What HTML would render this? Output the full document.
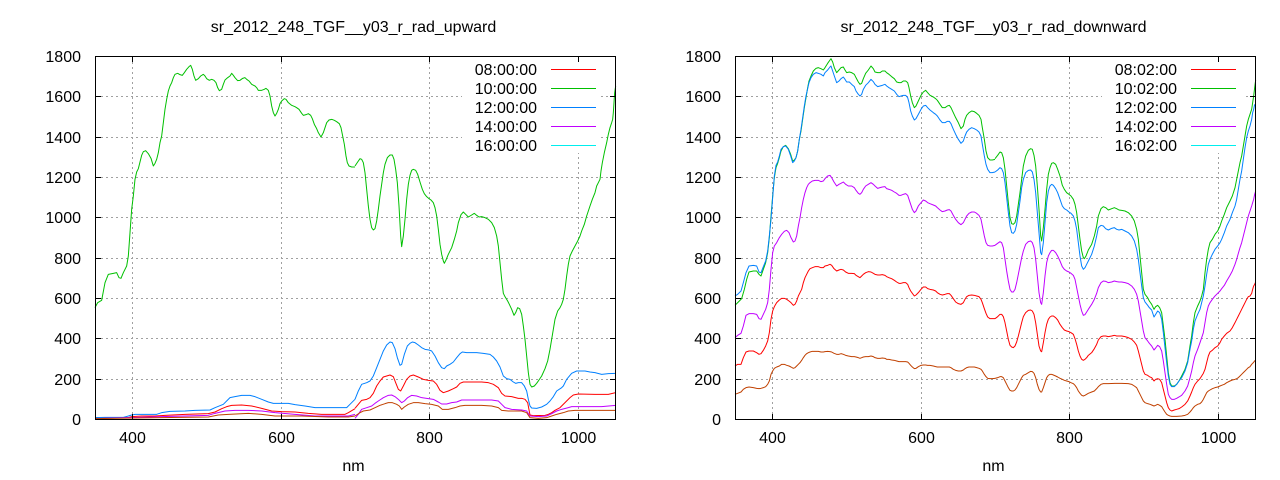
<!DOCTYPE html>
<html><head><meta charset="utf-8"><style>
html,body{margin:0;padding:0;background:#fff;}
svg{display:block;}
text{font-family:"Liberation Sans",Arial,sans-serif;font-size:16px;fill:#000;}
</style></head><body>
<svg width="1280" height="480" viewBox="0 0 1280 480" xmlns="http://www.w3.org/2000/svg">
<rect width="1280" height="480" fill="#fff"/>

<!-- ================= LEFT PLOT ================= -->
<g shape-rendering="crispEdges" stroke="#a0a0a0" stroke-width="1" stroke-dasharray="2,3" fill="none">
 <path d="M96,96.5H615 M96,137.5H615 M96,177.5H615 M96,217.5H615 M96,258.5H615 M96,298.5H615 M96,338.5H615 M96,379.5H615"/>
 <path d="M132.5,57V419 M281.5,57V419 M429.5,57V419 M578.5,57V419"/>
</g>
<rect x="462" y="57" width="139" height="96" fill="#fff"/>
<g fill="none" stroke-width="3" stroke-linejoin="round">
 <g transform="translate(95,56) scale(0.33333)">
  <polyline stroke="#ff0000" points="0,1085 100,1085 110,1082 140,1080 180,1080 210,1078 270,1075 340,1073 360,1068 380,1058 395,1052 410,1048 440,1047 470,1050 500,1057 530,1065 560,1067 600,1068 640,1072 680,1075 750,1075 760,1070 780,1058"/>
  <polyline stroke="#00c000" points="0,755 8,740 20,733 30,680 40,655 55,652 65,650 72,665 78,667 85,650 95,630 100,600 105,530 110,460 115,420 120,370 125,348 130,338 135,318 140,298 145,287 152,284 160,293 168,307 175,330 180,322 185,310 190,290 195,260 200,240 205,200 210,160 215,130 220,105 225,90 230,80 235,65 240,55 248,52 255,56 262,58 268,50 275,40 282,32 287,28 292,40 297,60 302,73 310,68 317,60 325,55 330,60 335,68 343,73 350,70 357,73 363,80 368,95 373,104 380,100 385,85 390,72 398,65 405,60 410,52 415,58 420,65 428,74 435,73 443,67 450,65 455,70 462,75 470,85 480,90 485,95 490,103 500,103 508,100 513,97 520,103 525,120 530,150 535,170 540,180 545,172 550,160 555,143 560,135 568,128 573,130 580,140 590,148 600,152 605,155 612,160 620,172 625,178 633,176 640,173 647,178 652,188 658,205 665,218 670,230 678,243 685,230 690,215 695,200 702,192 710,190 718,193 725,197 733,203 738,215 742,235 748,265 753,300 757,320 762,330 770,333 780,333"/>
  <polyline stroke="#0080ff" points="0,1085 30,1084 85,1084 100,1080 110,1077 120,1075 150,1075 185,1075 200,1070 225,1066 270,1065 300,1063 345,1062 360,1055 385,1045 405,1025 420,1022 440,1018 465,1018 480,1022 500,1030 520,1038 535,1042 580,1042 600,1046 630,1050 660,1055 700,1055 755,1055 765,1045 780,1030"/>
  <polyline stroke="#c000ff" points="0,1088 100,1085 200,1082 340,1078 360,1072 390,1065 420,1063 460,1063 500,1065 540,1070 600,1075 660,1080 760,1080 780,1075"/>
  <polyline stroke="#c04000" points="0,1088 200,1085 340,1083 370,1077 400,1075 460,1072 500,1075 540,1080 620,1080 700,1083 760,1083 780,1080"/>
 </g>
 <g transform="translate(355,56) scale(0.33333)">
  <polyline stroke="#ff0000" points="0,1057 10,1045 20,1033 35,1030 45,1025 55,1012 65,990 75,975 85,963 95,960 105,957 115,962 122,980 130,1000 137,1005 145,990 155,970 165,960 175,957 190,963 205,970 220,973 235,975 245,985 255,1003 265,1010 280,1005 295,998 305,993 315,982 325,978 350,978 380,978 400,980 415,985 430,995 440,1012 450,1020 470,1022 490,1027 500,1027 510,1030 518,1040 525,1077 535,1079 570,1078 580,1075 590,1070 600,1063 615,1055 630,1040 645,1025 655,1017 670,1014 720,1015 740,1015 760,1015 782,1010"/>
  <polyline stroke="#00c000" points="0,330 8,318 15,308 20,310 25,320 30,350 35,400 40,450 45,490 50,515 55,522 60,518 65,495 70,460 75,420 80,385 85,350 90,325 97,305 105,297 112,297 117,310 122,340 127,380 132,450 137,540 140,572 145,540 150,490 155,430 160,385 165,358 170,343 175,340 182,343 188,355 195,378 202,400 208,413 215,422 222,428 228,432 235,440 240,455 245,480 250,520 255,565 260,595 265,615 268,622 273,612 280,595 290,575 298,550 305,525 310,500 318,476 325,468 332,475 340,483 350,477 358,472 365,478 372,483 380,482 390,485 400,490 410,500 418,515 425,540 430,570 435,620 440,670 445,712 450,722 458,735 463,745 470,760 477,778 482,770 488,755 494,758 500,775 505,810 510,850 515,900 520,950 525,985 530,993 538,990 545,982 552,972 560,960 570,938 578,915 585,880 590,850 595,820 600,790 608,765 615,755 620,745 625,730 630,700 635,660 640,625 645,600 652,585 660,570 668,555 675,540 680,525 688,505 695,480 705,450 712,430 720,410 725,390 730,380 735,370 738,345 742,320 748,290 755,260 760,235 765,215 770,200 773,190 775,170 777,140 779,110 782,90"/>
  <polyline stroke="#0080ff" points="0,1030 10,1005 20,985 35,980 45,975 55,960 65,935 75,910 85,885 95,867 105,858 112,860 120,878 127,905 135,928 140,925 148,895 157,870 165,862 172,858 180,860 190,867 200,875 210,880 222,882 230,885 240,900 250,920 260,935 268,938 275,930 285,925 295,918 305,905 315,893 322,888 335,890 350,890 365,890 385,892 405,895 415,903 425,915 435,933 445,960 455,968 465,970 475,978 482,982 490,980 500,980 508,990 515,1005 520,1030 525,1050 530,1056 545,1057 560,1053 575,1045 585,1035 595,1022 605,1005 620,995 625,990 635,970 650,952 665,945 690,945 705,948 720,950 740,955 760,953 782,952"/>
  <polyline stroke="#c000ff" points="0,1087 10,1075 20,1060 35,1055 50,1050 60,1042 70,1035 85,1025 100,1018 110,1017 120,1022 130,1030 140,1040 148,1035 158,1025 170,1018 185,1020 200,1025 215,1027 235,1030 250,1038 260,1044 275,1044 290,1040 305,1038 320,1032 340,1032 380,1032 410,1032 430,1035 440,1045 450,1055 470,1060 500,1062 515,1065 525,1080 550,1082 575,1080 590,1073 605,1065 620,1060 640,1055 650,1052 700,1052 740,1052 782,1048"/>
  <polyline stroke="#c04000" points="0,1080 15,1070 25,1065 45,1062 60,1055 75,1048 90,1043 100,1040 112,1040 125,1045 133,1050 140,1060 148,1053 160,1045 175,1040 190,1040 210,1043 230,1045 250,1050 262,1060 280,1060 300,1055 315,1050 330,1048 380,1048 410,1050 430,1055 440,1063 460,1065 500,1065 515,1070 525,1085 550,1087 575,1085 590,1080 605,1075 625,1070 640,1065 660,1063 700,1063 782,1063"/>
 </g>
</g>
<g shape-rendering="crispEdges" stroke="#000" stroke-width="1" fill="none">
 <rect x="95.5" y="56.5" width="520" height="363"/>
 <path d="M96,96.5h5 M96,137.5h5 M96,177.5h5 M96,217.5h5 M96,258.5h5 M96,298.5h5 M96,338.5h5 M96,379.5h5
          M615,96.5h-5 M615,137.5h-5 M615,177.5h-5 M615,217.5h-5 M615,258.5h-5 M615,298.5h-5 M615,338.5h-5 M615,379.5h-5
          M132.5,419v-5 M281.5,419v-5 M429.5,419v-5 M578.5,419v-5
          M132.5,57v5 M281.5,57v5 M429.5,57v5 M578.5,57v5"/>
</g>
<g shape-rendering="crispEdges" stroke-width="1">
 <path d="M551,69.5H596" stroke="#ff0000"/>
 <path d="M551,88.5H596" stroke="#00c000"/>
 <path d="M551,107.5H596" stroke="#0080ff"/>
 <path d="M551,126.5H596" stroke="#c000ff"/>
 <path d="M551,145.5H596" stroke="#00eeee"/>
</g>
<g text-anchor="end">
 <text x="537" y="75">08:00:00</text>
 <text x="537" y="94">10:00:00</text>
 <text x="537" y="113">12:00:00</text>
 <text x="537" y="132">14:00:00</text>
 <text x="537" y="151">16:00:00</text>
 <text x="81" y="62">1800</text>
 <text x="81" y="102">1600</text>
 <text x="81" y="143">1400</text>
 <text x="81" y="183">1200</text>
 <text x="81" y="223">1000</text>
 <text x="81" y="264">800</text>
 <text x="81" y="304">600</text>
 <text x="81" y="344">400</text>
 <text x="81" y="385">200</text>
 <text x="81" y="425">0</text>
</g>
<g text-anchor="middle">
 <text x="132.5" y="443">400</text>
 <text x="281.5" y="443">600</text>
 <text x="429.5" y="443">800</text>
 <text x="578.5" y="443">1000</text>
 <text x="353.5" y="471">nm</text>
 <text x="353.5" y="32">sr_2012_248_TGF__y03_r_rad_upward</text>
</g>

<!-- ================= RIGHT PLOT ================= -->
<g shape-rendering="crispEdges" stroke="#a0a0a0" stroke-width="1" stroke-dasharray="2,3" fill="none">
 <path d="M736,96.5H1255 M736,137.5H1255 M736,177.5H1255 M736,217.5H1255 M736,258.5H1255 M736,298.5H1255 M736,338.5H1255 M736,379.5H1255"/>
 <path d="M772.5,57V419 M921.5,57V419 M1069.5,57V419 M1218.5,57V419"/>
</g>
<rect x="1102" y="57" width="143" height="96" fill="#fff"/>
<g fill="none" stroke-width="3" stroke-linejoin="round">
 <g transform="translate(735,56) scale(0.33333)">
  <polyline stroke="#ff0000" points="0,930 8,925 18,925 25,905 33,888 42,885 55,885 65,890 72,895 78,893 85,883 92,870 98,855 103,830 108,790 113,765 118,752 125,740 133,732 140,727 148,727 155,730 162,735 168,740 175,748 180,745 185,735 190,720 195,710 200,700 205,680 210,665 215,655 220,645 225,638 232,635 240,632 250,632 258,635 265,635 270,630 278,628 285,625 290,628 297,638 305,645 312,642 318,640 325,642 332,648 340,652 350,652 358,653 363,658 370,662 375,665 380,660 385,655 392,650 400,647 408,648 415,652 420,655 428,657 435,657 442,656 450,658 455,662 462,665 470,668 478,673 485,678 492,682 498,682 505,680 512,680 518,685 522,695 527,705 532,712 538,720 543,717 550,710 558,700 565,693 572,693 578,698 585,700 595,702 602,705 607,710 615,715 622,717 630,715 637,713 643,713 648,718 655,728 662,738 670,743 678,745 685,740 690,730 695,722 702,718 710,717 718,718 725,720 732,722 738,730 742,740 748,758 753,772 758,783 765,788 772,788 780,788"/>
  <polyline stroke="#00c000" points="0,748 10,738 20,728 28,700 35,670 42,648 55,645 65,645 72,655 78,660 85,640 92,620 98,590 103,545 108,480 113,420 118,365 123,335 128,322 133,305 138,285 145,272 152,268 160,278 167,295 173,315 178,312 183,305 188,285 193,250 198,225 203,190 208,155 213,125 218,95 222,75 228,60 235,45 243,37 250,35 258,38 265,42 270,35 278,22 285,12 288,8 293,18 298,35 305,50 312,42 318,35 325,33 330,42 335,50 343,48 350,50 358,55 363,65 370,78 375,85 380,82 385,68 392,52 400,42 408,30 415,38 420,48 428,50 435,50 442,45 450,45 455,50 462,55 470,62 478,68 485,78 492,80 498,80 505,75 512,75 518,80 522,95 527,120 532,140 538,155 543,150 550,135 558,118 565,108 572,103 578,110 585,118 595,123 602,128 607,133 615,145 622,155 630,155 637,150 643,148 648,155 655,170 662,185 670,200 678,218 685,210 690,190 695,178 702,170 710,165 718,167 725,172 732,178 738,190 742,215 748,250 753,285 758,305 765,312 772,312 780,310"/>
  <polyline stroke="#0080ff" points="0,720 8,715 18,705 25,680 33,650 42,630 55,628 65,630 72,648 78,650 85,632 92,615 98,585 103,540 108,490 113,425 118,360 123,328 128,318 133,300 138,280 145,272 152,270 160,280 167,300 173,320 178,315 183,305 188,285 193,250 198,220 203,185 208,150 213,120 218,98 222,80 228,65 235,55 243,50 250,52 258,55 265,60 270,50 278,42 285,33 288,30 293,45 298,60 305,80 312,75 318,68 325,63 330,70 335,78 343,78 350,85 358,92 363,105 370,115 375,120 380,115 385,100 392,88 400,80 408,70 415,77 420,85 428,92 435,90 442,88 450,85 455,90 462,95 470,100 478,105 485,115 492,122 498,120 505,118 512,118 518,125 522,140 527,165 532,180 538,192 543,188 550,175 558,160 565,150 572,148 578,155 585,162 595,170 602,175 607,180 615,192 622,200 630,200 637,196 643,196 648,203 655,220 662,235 670,250 678,262 685,255 690,240 695,228 702,220 710,215 718,218 725,222 732,228 738,240 742,265 748,300 753,325 758,340 765,350 772,350 780,348"/>
  <polyline stroke="#c000ff" points="0,845 8,838 18,832 25,810 33,778 42,773 55,773 65,775 72,788 78,790 85,775 92,760 98,740 103,700 108,640 113,590 118,570 125,560 133,545 140,535 148,526 155,523 162,530 168,545 175,558 180,555 185,540 190,510 195,485 200,455 205,430 210,410 215,395 220,385 225,380 232,375 240,373 250,373 258,377 265,375 270,368 278,360 285,358 290,365 297,378 305,390 312,385 318,382 325,378 332,385 340,390 350,390 358,395 363,403 370,412 375,415 380,410 385,400 392,390 400,385 408,380 415,385 420,390 428,397 435,395 442,393 450,392 455,398 462,400 470,403 478,408 485,412 492,418 498,418 505,415 512,413 518,418 522,430 527,445 532,460 538,470 543,465 550,450 558,440 565,432 572,435 578,440 585,443 595,447 602,450 607,455 615,462 622,467 630,465 637,462 643,461 648,465 655,478 662,490 670,500 678,506 685,500 690,490 695,480 702,472 710,468 718,468 725,472 732,478 738,490 742,510 748,540 753,560 758,568 765,570 772,570 780,568"/>
  <polyline stroke="#c04000" points="0,1015 8,1012 18,1008 25,1000 33,995 42,993 55,995 65,997 72,998 78,997 85,995 92,992 98,985 103,975 108,955 113,945 118,937 125,933 133,930 140,925 148,925 155,928 162,930 168,933 175,937 180,935 185,930 190,925 195,920 200,913 205,905 210,898 215,893 220,890 225,888 232,886 240,886 250,886 258,888 265,888 270,887 278,886 285,887 290,888 297,892 305,895 312,895 318,893 325,895 332,898 340,900 350,902 358,902 363,903 370,905 375,907 380,905 385,903 392,902 400,902 408,900 415,902 420,905 428,907 435,907 442,906 450,907 455,910 462,910 470,912 478,913 485,915 492,917 498,917 505,917 512,917 518,918 522,922 527,928 532,933 538,938 543,937 550,932 558,928 565,927 572,927 578,928 585,928 595,930 602,932 607,933 615,933 622,933 630,933 637,933 643,933 648,935 655,940 662,943 670,945 678,945 685,942 690,938 695,935 702,933 710,933 718,933 725,935 732,937 738,940 742,945 748,955 753,962 758,967 765,968 772,968 780,967"/>
 </g>
 <g transform="translate(995,56) scale(0.33333)">
  <polyline stroke="#ff0000" points="0,788 8,782 15,775 20,775 25,782 30,800 35,825 40,850 45,868 50,873 55,875 60,870 65,858 70,840 75,820 80,800 85,782 92,770 100,763 107,762 112,765 117,775 122,800 127,835 132,870 137,885 140,887 145,860 150,830 155,805 160,790 165,783 170,780 175,780 182,785 188,792 195,805 202,815 208,822 215,825 222,827 228,830 235,835 240,848 245,865 250,885 255,900 260,910 265,913 270,910 275,905 280,898 290,890 298,878 305,865 310,852 318,842 325,840 332,840 340,842 350,840 358,838 365,840 372,840 380,840 390,842 400,845 410,850 418,858 425,868 430,885 435,905 440,925 445,945 450,955 458,958 463,962 470,965 477,975 482,970 488,968 494,970 500,980 505,1000 510,1020 515,1040 520,1055 525,1062 530,1065 538,1062 545,1060 552,1058 560,1053 570,1045 578,1035 585,1020 590,1008 595,995 600,985 608,975 615,968 620,960 625,952 630,940 635,920 640,900 645,888 652,883 660,875 668,870 675,860 680,850 688,840 695,832 705,825 712,815 720,800 725,790 730,780 735,770 740,760 745,750 750,740 755,730 760,722 765,720 770,712 773,700 776,690 779,685 782,678"/>
  <polyline stroke="#00c000" points="0,308 8,298 15,288 20,290 25,305 30,340 35,390 40,440 45,485 50,503 55,505 60,500 65,480 70,445 75,410 80,370 85,330 92,300 100,283 107,278 112,280 117,298 122,330 127,390 132,460 137,540 140,555 145,515 150,460 155,400 160,355 165,335 170,322 175,320 182,325 188,340 195,360 202,388 208,400 215,410 222,415 228,420 235,430 240,445 245,470 250,510 255,550 260,585 265,605 268,608 273,600 280,582 290,565 298,540 305,510 310,480 318,458 325,452 332,455 340,462 350,458 358,455 365,458 372,462 380,463 390,465 400,470 410,480 418,495 425,520 430,550 435,600 440,650 445,700 450,715 458,725 463,735 470,745 477,760 482,752 488,748 494,755 500,770 505,810 510,850 515,900 520,950 525,980 530,990 538,990 545,985 552,975 560,960 570,940 578,915 585,870 590,840 595,800 600,770 608,750 615,735 620,720 625,700 630,650 635,610 640,580 645,560 652,550 660,535 668,525 675,510 680,495 688,475 695,455 705,435 712,420 720,395 725,370 730,345 735,320 740,300 745,270 750,240 755,210 760,190 765,175 770,160 773,140 776,120 779,95 782,72"/>
  <polyline stroke="#0080ff" points="0,348 8,342 15,335 20,338 25,350 30,380 35,425 40,470 45,510 50,530 55,532 60,525 65,505 70,470 75,435 80,395 85,370 92,350 100,343 107,342 112,348 117,370 122,410 127,470 132,530 137,590 140,596 145,560 150,500 155,440 160,405 165,390 170,385 175,388 182,398 188,410 195,430 202,450 208,458 215,462 222,468 228,472 235,480 240,495 245,520 250,560 255,600 260,630 265,640 270,635 275,625 280,615 290,595 298,570 305,540 310,515 318,508 325,510 332,518 340,522 350,517 358,515 365,520 372,522 380,520 390,525 400,530 410,540 418,555 425,580 430,610 435,650 440,690 445,725 450,738 458,748 463,755 470,762 477,783 482,775 488,765 494,770 500,790 505,830 510,875 515,920 520,960 525,985 530,992 538,992 545,985 552,975 560,965 570,945 578,920 585,880 590,855 595,820 600,795 608,775 615,760 620,740 625,720 630,690 635,655 640,625 645,610 652,595 660,580 668,570 675,560 680,550 688,530 695,510 705,490 712,470 720,450 725,430 730,400 735,370 740,345 745,310 750,275 755,245 760,225 765,210 770,190 773,170 776,160 779,145"/>
  <polyline stroke="#c000ff" points="0,568 8,562 15,557 20,560 25,575 30,610 35,645 40,675 45,700 50,708 55,708 60,700 65,680 70,655 75,630 80,605 85,585 92,565 100,557 107,555 112,560 117,575 122,610 127,660 132,710 137,740 140,745 145,710 150,660 155,620 160,600 165,590 170,583 175,583 182,590 188,600 195,615 202,632 208,640 215,645 222,648 228,652 235,658 240,670 245,695 250,720 255,745 260,765 265,778 270,776 275,768 280,760 290,745 298,730 305,712 310,695 318,680 325,675 332,676 340,680 350,678 358,675 365,677 372,678 380,678 390,680 400,683 410,690 418,700 425,715 430,735 435,765 440,795 445,825 450,845 458,855 463,862 470,870 477,882 482,876 488,868 494,872 500,885 505,915 510,950 515,985 520,1015 525,1025 530,1030 538,1030 545,1027 552,1023 560,1018 570,1005 578,990 585,965 590,945 595,920 600,900 608,880 615,860 620,845 625,830 630,800 635,770 640,750 645,740 652,730 660,720 668,712 675,705 680,698 688,688 695,675 705,658 712,645 720,625 725,610 730,592 735,575 740,560 745,540 750,520 755,500 760,480 765,465 770,450 773,440 776,430 779,415 782,405"/>
  <polyline stroke="#c04000" points="0,967 8,965 15,962 20,962 25,965 30,975 35,985 40,995 45,1003 50,1005 55,1005 60,1002 65,995 70,985 75,975 80,965 85,958 92,955 100,950 107,946 112,947 117,952 122,965 127,985 132,1000 137,1008 140,1008 145,995 150,980 155,965 160,958 165,955 170,955 175,957 182,960 188,963 195,967 202,970 208,973 215,975 222,977 228,980 235,983 240,988 245,995 250,1005 255,1012 260,1018 265,1020 270,1018 275,1015 280,1012 290,1008 298,1005 305,998 310,992 318,985 325,983 340,983 360,982 380,982 400,983 410,985 418,990 425,995 430,1005 435,1015 440,1025 445,1035 450,1040 458,1043 465,1045 470,1047 477,1050 482,1048 488,1045 494,1048 500,1052 505,1060 510,1068 515,1075 520,1078 525,1080 530,1081 545,1081 560,1080 570,1078 578,1075 585,1068 590,1062 595,1055 600,1050 608,1045 615,1043 620,1038 625,1030 630,1020 635,1010 640,1005 645,1002 652,998 660,995 668,993 675,990 680,988 688,985 695,980 705,975 712,972 720,970 725,968 730,965 735,960 740,955 745,950 750,945 755,940 760,935 765,932 770,925 775,920 779,915 782,912"/>
 </g>
</g>
<g shape-rendering="crispEdges" stroke="#000" stroke-width="1" fill="none">
 <rect x="735.5" y="56.5" width="520" height="363"/>
 <path d="M736,96.5h5 M736,137.5h5 M736,177.5h5 M736,217.5h5 M736,258.5h5 M736,298.5h5 M736,338.5h5 M736,379.5h5
          M1255,96.5h-5 M1255,137.5h-5 M1255,177.5h-5 M1255,217.5h-5 M1255,258.5h-5 M1255,298.5h-5 M1255,338.5h-5 M1255,379.5h-5
          M772.5,419v-5 M921.5,419v-5 M1069.5,419v-5 M1218.5,419v-5
          M772.5,57v5 M921.5,57v5 M1069.5,57v5 M1218.5,57v5"/>
</g>
<g shape-rendering="crispEdges" stroke-width="1">
 <path d="M1191,69.5H1236" stroke="#ff0000"/>
 <path d="M1191,88.5H1236" stroke="#00c000"/>
 <path d="M1191,107.5H1236" stroke="#0080ff"/>
 <path d="M1191,126.5H1236" stroke="#c000ff"/>
 <path d="M1191,145.5H1236" stroke="#00eeee"/>
</g>
<g text-anchor="end">
 <text x="1177" y="75">08:02:00</text>
 <text x="1177" y="94">10:02:00</text>
 <text x="1177" y="113">12:02:00</text>
 <text x="1177" y="132">14:02:00</text>
 <text x="1177" y="151">16:02:00</text>
 <text x="721" y="62">1800</text>
 <text x="721" y="102">1600</text>
 <text x="721" y="143">1400</text>
 <text x="721" y="183">1200</text>
 <text x="721" y="223">1000</text>
 <text x="721" y="264">800</text>
 <text x="721" y="304">600</text>
 <text x="721" y="344">400</text>
 <text x="721" y="385">200</text>
 <text x="721" y="425">0</text>
</g>
<g text-anchor="middle">
 <text x="772.5" y="443">400</text>
 <text x="921.5" y="443">600</text>
 <text x="1069.5" y="443">800</text>
 <text x="1218.5" y="443">1000</text>
 <text x="993.5" y="471">nm</text>
 <text x="993.5" y="32">sr_2012_248_TGF__y03_r_rad_downward</text>
</g>
</svg>
</body></html>
